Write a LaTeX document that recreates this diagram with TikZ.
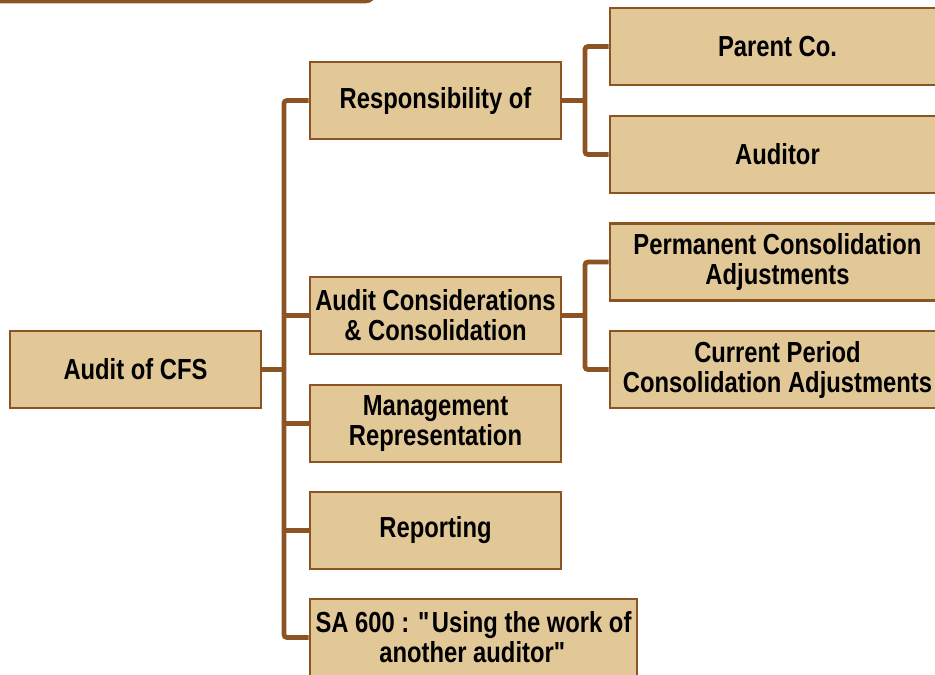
\documentclass[tikz,border=0pt]{standalone}
\usepackage{fontspec}
\setmainfont{Liberation Sans}[FakeStretch=0.82]
\usetikzlibrary{calc}
\definecolor{boxfill}{RGB}{226,200,150}
\definecolor{brn}{RGB}{140,84,34}
\tikzset{
  box/.style={draw=brn, line width=2.6pt, fill=boxfill, rectangle, align=center,
    minimum height=77pt, inner sep=0pt, font=\fontsize{29}{30}\selectfont\bfseries},
  conn/.style={draw=brn, line width=4.8pt, rounded corners=3pt}
}
\begin{document}
\begin{tikzpicture}[x=1pt,y=-1pt]
\useasboundingbox (0,0) rectangle (935,675);
\clip (0,0) rectangle (935,675);
\draw[brn, line width=3.5pt, rounded corners=8pt] (-10,-60) rectangle (374,1.5);
% nodes
\node[box, minimum width=251pt] (cfs) at (135.5,369.5) {Audit of CFS};
\node[box, minimum width=251pt] (resp) at (435.5,100.5) {Responsibility of};
\node[box, minimum width=251pt] (acc) at (435.5,315.5) {Audit Considerations\\\& Consolidation};
\node[box, minimum width=251pt] (mgmt) at (435.5,423.5) {Management\\Representation};
\node[box, minimum width=251pt] (rep) at (435.5,530.5) {Reporting};
\node[box, minimum width=327pt] (sa) at (473.5,637.5) {SA 600 : \textquotedbl Using the work of\\another auditor\textquotedbl};
\node[box, minimum width=335pt] (parent) at (777.5,46.5) {Parent Co.};
\node[box, minimum width=335pt] (auditor) at (777.5,154.5) {Auditor};
\node[box, minimum width=335pt] (perm) at (777.5,262) {Permanent Consolidation\\Adjustments};
\node[box, minimum width=335pt] (curr) at (777.5,369.5) {Current Period\\Consolidation Adjustments};
% connectors
\coordinate (tk) at (284,0);
\coordinate (tk2) at (585,0);
\draw[conn] (cfs.east) -- (cfs.east-|tk);
\draw[conn] (resp.west) -| (tk|-sa.west) -- (sa.west);
\draw[conn] (acc.west) -- (acc.west-|tk);
\draw[conn] (mgmt.west) -- (mgmt.west-|tk);
\draw[conn] (rep.west) -- (rep.west-|tk);
\draw[conn] (parent.west) -| (tk2|-auditor.west) -- (auditor.west);
\draw[conn] (resp.east) -- (resp.east-|tk2);
\draw[conn] (perm.west) -| (tk2|-curr.west) -- (curr.west);
\draw[conn] (acc.east) -- (acc.east-|tk2);
\end{tikzpicture}
\end{document}
